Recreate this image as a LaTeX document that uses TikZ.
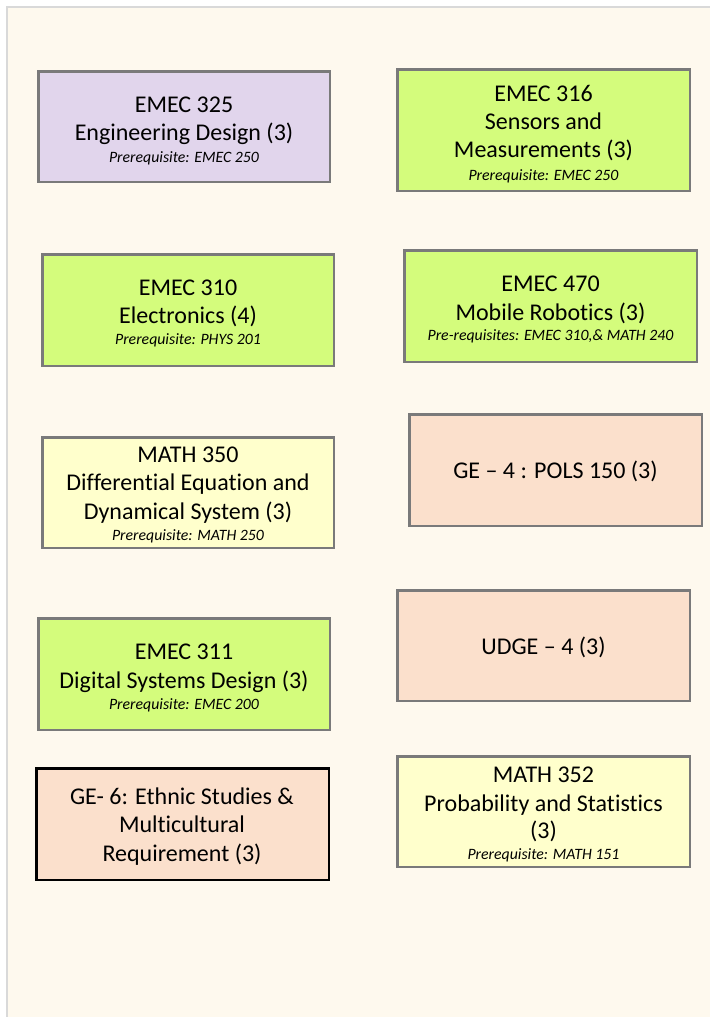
\documentclass[tikz,border=0pt]{standalone}
\usepackage{fontspec}
\setmainfont[Ligatures=NoCommon]{Carlito}
\definecolor{cream}{HTML}{FEF9EE}
\definecolor{edgegray}{HTML}{D9D9D9}
\definecolor{boxgray}{HTML}{7A7A7A}
\definecolor{lav}{HTML}{E1D5EC}
\definecolor{lime}{HTML}{D4FC7C}
\definecolor{paleyel}{HTML}{FFFFCC}
\definecolor{peach}{HTML}{FBE0CC}
\tikzset{
  box/.style={draw=boxgray, line width=2.5pt, inner sep=0pt, rectangle},
  ttl/.style={font=\fontsize{24}{28}\selectfont, inner sep=0pt, anchor=base},
  prq/.style={font=\fontsize{15.8}{18}\selectfont\itshape, inner sep=0pt, anchor=base}
}
\begin{document}
\begin{tikzpicture}[x=1pt,y=-1pt]
\useasboundingbox (0,0) rectangle (710,1017);
\fill[white] (0,0) rectangle (710,1017);
\fill[edgegray] (6,6) rectangle (710,1017);
\fill[cream] (8,8) rectangle (710,1017);

% boxes
\node[box, fill=lav, minimum width=291.5, minimum height=110.5] (e325) at (184,126.5) {};
\node[box, fill=lime, minimum width=292.5, minimum height=121.5] (e316) at (543.5,130) {};
\node[box, fill=lime, minimum width=291.5, minimum height=111.5] (e310) at (188,310) {};
\node[box, fill=paleyel, minimum width=291.5, minimum height=110.5] (m350) at (188,492.5) {};
\node[box, fill=lime, minimum width=292.5, minimum height=111.5] (e470) at (550.5,306) {};
\node[box, fill=peach, minimum width=292.5, minimum height=111.5] (ge4) at (555.5,470) {};
\node[box, fill=lime, minimum width=291.5, minimum height=111.5] (e311) at (184,674) {};
\node[box, fill=peach, draw=black, minimum width=292.5, minimum height=111.5] (ge6) at (182.5,824) {};
\node[box, fill=peach, minimum width=292.5, minimum height=110.5] (udge) at (543.5,645.5) {};
\node[box, fill=paleyel, minimum width=292.5, minimum height=110.5] (m352) at (543.5,811.5) {};

% texts
\node[ttl] (e325a) at (184,112.7) {EMEC 325};
\node[ttl] (e325b) at (184,140.7) {Engineering Design (3)};
\node[prq] (e325c) at (184,162.3) {Prerequisite: EMEC 250};

\node[ttl] (e316a) at (543.5,101) {EMEC 316};
\node[ttl] (e316b) at (543.5,129.3) {Sensors and};
\node[ttl] (e316c) at (543.5,157.7) {Measurements (3)};
\node[prq] (e316d) at (543.5,180) {Prerequisite: EMEC 250};

\node[ttl] (e310a) at (188,295) {EMEC 310};
\node[ttl] (e310b) at (188,323.3) {Electronics (4)};
\node[prq] (e310c) at (188,344) {Prerequisite: PHYS 201};

\node[ttl] (m350a) at (188,462.7) {MATH 350};
\node[ttl] (m350b) at (188,490.7) {Differential Equation and};
\node[ttl] (m350c) at (188,519.3) {Dynamical System (3)};
\node[prq] (m350d) at (188,540) {Prerequisite: MATH 250};

\node[ttl] (e470a) at (550.5,291) {EMEC 470};
\node[ttl] (e470b) at (550.5,320) {Mobile Robotics (3)};
\node[prq] (e470c) at (550.5,340.7) {Pre-requisites: EMEC 310,\& MATH 240};

\node[ttl] (ge4a) at (555.5,478.5) {GE – 4 : POLS 150 (3)};

\node[ttl] (e311a) at (184,659.3) {EMEC 311};
\node[ttl] (e311b) at (184,688.3) {Digital Systems Design (3)};
\node[prq] (e311c) at (184,709) {Prerequisite: EMEC 200};

\node[ttl] (ge6a) at (182,804) {GE- 6: Ethnic Studies \&};
\node[ttl] (ge6b) at (182,832.7) {Multicultural};
\node[ttl] (ge6c) at (182,861.7) {Requirement (3)};

\node[ttl] (udgea) at (543.5,654.5) {UDGE – 4 (3)};

\node[ttl] (m352a) at (543.5,782.3) {MATH 352};
\node[ttl] (m352b) at (543.5,811) {Probability and Statistics};
\node[ttl] (m352c) at (543.5,838.5) {(3)};
\node[prq] (m352d) at (543.5,859.3) {Prerequisite: MATH 151};
\end{tikzpicture}
\end{document}
